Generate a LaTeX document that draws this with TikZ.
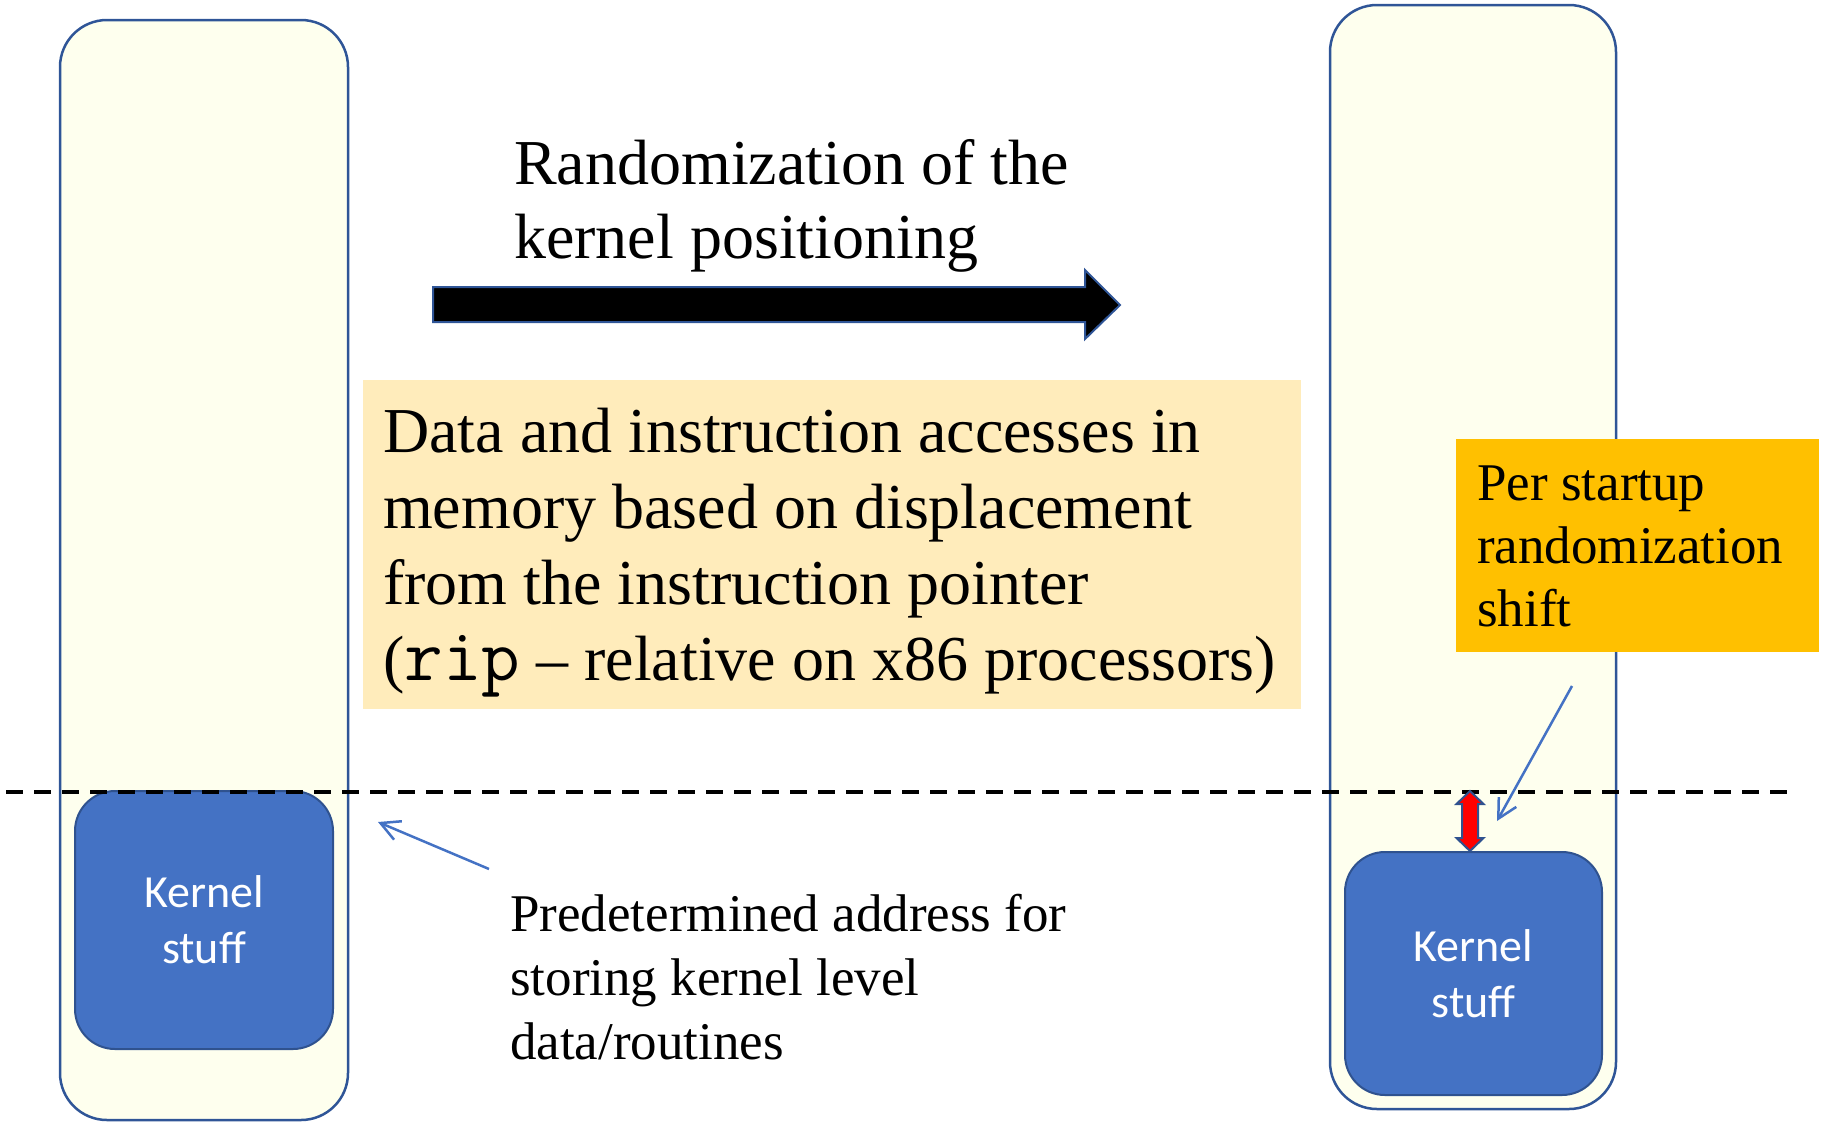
\documentclass[tikz,border=0pt]{standalone}
\usepackage{fontspec}
\setmainfont{Liberation Serif}
\newfontfamily\calibri{Carlito}
\usetikzlibrary{arrows.meta}
\definecolor{memfill}{HTML}{FEFFEE}
\definecolor{memborder}{HTML}{2F5597}
\definecolor{kernfill}{HTML}{4472C4}
\definecolor{kernborder}{HTML}{2F528F}
\definecolor{infofill}{HTML}{FFECBB}
\definecolor{shiftfill}{HTML}{FFC000}
\begin{document}
\begin{tikzpicture}[x=1pt,y=-1pt,
  membox/.style={draw=memborder, line width=2.5pt, fill=memfill, rounded corners=47pt, inner sep=0pt},
  kernbox/.style={draw=kernborder, line width=2pt, fill=kernfill, rounded corners=40pt, inner sep=0pt,
    text=white, font=\calibri\fontsize{46}{56}\selectfont, align=center},
  pointer/.style={draw=kernfill, line width=2.5pt, -{Straight Barb[length=19pt,width=20pt]}},
  txt/.style={inner sep=0pt, anchor=base west},
  plainbox/.style={inner sep=0pt, anchor=north west},
]
\useasboundingbox (0,0) rectangle (1825,1122);
% memory columns
\node[membox, minimum width=288pt, minimum height=1100pt] (memL) at (204,570) {};
\node[membox, minimum width=286pt, minimum height=1104pt] (memR) at (1473,557) {};
% kernel blocks
\node[kernbox, minimum width=258pt, minimum height=258pt] (kernL) at (204,920) {Kernel\\stuff};
\node[kernbox, minimum width=257pt, minimum height=243pt] (kernR) at (1473.5,973.5) {Kernel\\stuff};
% dashed reference line
\coordinate (dashA) at (6,792);
\coordinate (dashB) at (1792,792);
\draw[line width=3.5pt, dash pattern=on 17pt off 11pt] (dashA) -- (dashB);
% red double arrow (shift)
\draw[draw=kernborder, line width=2pt, fill=red, line join=miter]
  (1470,791) -- (1483.5,804) -- (1478,804) -- (1478,838) -- (1483.5,838) -- (1470,851)
  -- (1456.5,838) -- (1462,838) -- (1462,804) -- (1456.5,804) -- cycle;
% big block arrow
\draw[draw=memborder, line width=2pt, fill=black, line join=miter]
  (433,287) -- (1085,287) -- (1085,270) -- (1120,305) -- (1085,339) -- (1085,322) -- (433,322) -- cycle;
% title
\node[txt, font=\fontsize{64}{74}\selectfont] (title) at (514,184)
  {\parbox[t]{800pt}{\raggedright Randomization of the\\kernel positioning}};
% info box
\node[plainbox, fill=infofill, minimum width=938pt, minimum height=329pt] (info) at (363,380) {};
\node[txt, font=\fontsize{64}{76}\selectfont] (infotext) at (383,452)
  {\parbox[t]{920pt}{\raggedright Data and instruction accesses in\\memory based on displacement\\from the instruction pointer\\({\ttfamily\fontsize{75}{76}\selectfont rip} – relative on x86 processors)}};
% shift box
\node[plainbox, fill=shiftfill, minimum width=363pt, minimum height=213pt] (shift) at (1456,439) {};
\node[txt, font=\fontsize{53}{63}\selectfont] (shifttext) at (1477,500)
  {\parbox[t]{340pt}{\raggedright Per startup\\randomization\\shift}};
% predetermined text
\node[txt, font=\fontsize{53}{64}\selectfont] (pred) at (510,931)
  {\parbox[t]{700pt}{\raggedright Predetermined address for\\storing kernel level\\data/routines}};
% thin pointers
\coordinate (pTail) at (489,869);
\coordinate (pTip) at (378,822);
\draw[pointer] (pTail) -- (pTip);
\coordinate (sTail) at (1572,686);
\coordinate (sTip) at (1497,821);
\draw[pointer] (sTail) -- (sTip);
\end{tikzpicture}
\end{document}
